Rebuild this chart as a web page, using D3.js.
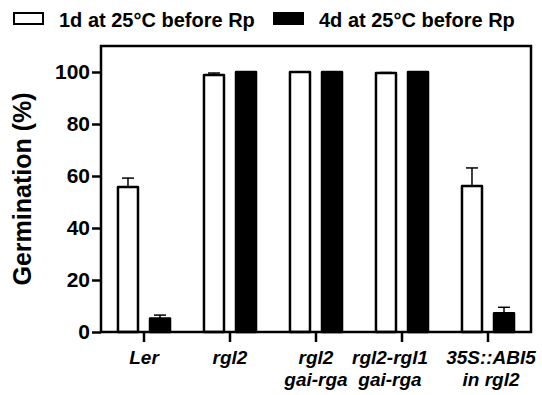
<!DOCTYPE html>
<html>
<head>
<meta charset="utf-8">
<script src="https://cdn.jsdelivr.net/npm/d3@7"></script>
<style>
	body { margin: 0; background: #fff; }
	text { font-family: Arial, "Liberation Sans", sans-serif; font-weight: bold; }
</style>
</head>
<body>
<svg width="542" height="395"></svg>
<script>

	// data
	var groups = ["Ler", "rgl2", "rgl2 gai-rga", "rgl2-rgl1 gai-rga", "35S::ABI5 in rgl2"];
	var groupLines = [["Ler"], ["rgl2"], ["rgl2", "gai-rga"], ["rgl2-rgl1", "gai-rga"], ["35S::ABI5", "in rgl2"]];
	var series = ["1d at 25°C before Rp", "4d at 25°C before Rp"];
	var day1 = [55.8, 98.8, 100, 99.6, 56.2];
	var day1Err = [3.4, 0.8, 0, 0.2, 6.9];
	var day4 = [5.2, 100, 100, 100, 7.2];
	var day4Err = [1.3, 0, 0, 0, 2.3];
	var yTicks = [0, 20, 40, 60, 80, 100];

	var svg = d3.select("svg");
	var m = {left: 101, right: 531, top: 46, bottom: 332};

	var x = d3.scaleBand().domain(groups).range([m.left, m.right]);
	var sub = d3.scaleBand().domain(series).range([0, x.bandwidth()]).paddingInner(0.375).paddingOuter(0.53);
	var y = d3.scaleLinear().domain([0, 110]).range([m.bottom, m.top]);

	var rows = [];
	groups.forEach(function(g, i) {
		rows.push({g: g, s: series[0], v: day1[i], e: day1Err[i], fill: "#fff"});
		rows.push({g: g, s: series[1], v: day4[i], e: day4Err[i], fill: "#000"});
	});

	function cx(d) { return x(d.g) + sub(d.s) + sub.bandwidth() / 2; }

	// error bars (upper only)
	var eb = svg.append("g").selectAll("g").data(rows.filter(function(d) { return d.e > 0; })).enter().append("g");
	eb.append("line")
		.attr("x1", cx).attr("x2", cx)
		.attr("y1", function(d) { return y(d.v); })
		.attr("y2", function(d) { return y(d.v + d.e); })
		.attr("stroke", "#000").attr("stroke-width", 1.5);
	eb.append("line")
		.attr("x1", function(d) { return cx(d) - 6; })
		.attr("x2", function(d) { return cx(d) + 6; })
		.attr("y1", function(d) { return y(d.v + d.e); })
		.attr("y2", function(d) { return y(d.v + d.e); })
		.attr("stroke", "#000").attr("stroke-width", 1.5);

	// bars
	svg.append("g").selectAll("rect").data(rows).enter().append("rect")
		.attr("x", function(d) { return x(d.g) + sub(d.s); })
		.attr("y", function(d) { return y(d.v); })
		.attr("width", sub.bandwidth())
		.attr("height", function(d) { return y(0) - y(d.v); })
		.attr("fill", function(d) { return d.fill; })
		.attr("stroke", "#000")
		.attr("stroke-width", 2.5)
		.attr("stroke-linejoin", "round");

	// frame
	svg.append("rect")
		.attr("x", m.left).attr("y", m.top)
		.attr("width", m.right - m.left).attr("height", m.bottom - m.top)
		.attr("fill", "none").attr("stroke", "#000").attr("stroke-width", 2.5);

	// y axis
	var yAxis = svg.append("g")
		.attr("transform", "translate(" + m.left + ",0)")
		.call(d3.axisLeft(y).tickValues(yTicks).tickSize(9).tickPadding(2));
	yAxis.select(".domain").remove();
	yAxis.selectAll("line").attr("stroke-width", 2.5);
	yAxis.selectAll("text").attr("font-size", 21).attr("fill", "#000")
		.style("font-family", "Arial, 'Liberation Sans', sans-serif").style("font-weight", "bold");

	// x axis
	var xAxis = svg.append("g")
		.attr("transform", "translate(0," + m.bottom + ")")
		.call(d3.axisBottom(x).tickSize(10).tickFormat(""));
	xAxis.select(".domain").remove();
	xAxis.selectAll("line").attr("stroke-width", 2.5);

	var xl = svg.append("g").selectAll("text").data(groupLines).enter().append("text")
		.attr("text-anchor", "middle")
		.attr("font-size", 19)
		.attr("font-style", "italic")
		.attr("transform", function(d, i) {
			// the 4th label sits a bit left of its tick in the original
			var nudge = i === 3 ? -12 : (i === 4 ? 3 : 0);
			return "translate(" + (x(groups[i]) + x.bandwidth() / 2 + nudge) + ",0)";
		});
	xl.selectAll("tspan").data(function(d) { return d; }).enter().append("tspan")
		.attr("x", 0)
		.attr("y", function(d, j) { return 364 + j * 22; })
		.text(function(d) { return d; });

	// y title
	svg.append("text")
		.attr("transform", "translate(31," + ((m.top + m.bottom) / 2) + ") rotate(-90)")
		.attr("text-anchor", "middle")
		.attr("font-size", 25)
		.text("Germination (%)");

	// legend
	var leg = svg.append("g").selectAll("g").data(series).enter().append("g")
		.attr("transform", function(d, i) { return "translate(" + (i ? 274 : 14) + ",13)"; });
	leg.append("rect")
		.attr("width", 29).attr("height", 11)
		.attr("fill", function(d, i) { return i ? "#000" : "#fff"; })
		.attr("stroke", "#000").attr("stroke-width", 2);
	leg.append("text")
		.attr("x", 45).attr("y", 14)
		.attr("font-size", 20)
		.text(function(d) { return d; });

</script>
</body>
</html>
